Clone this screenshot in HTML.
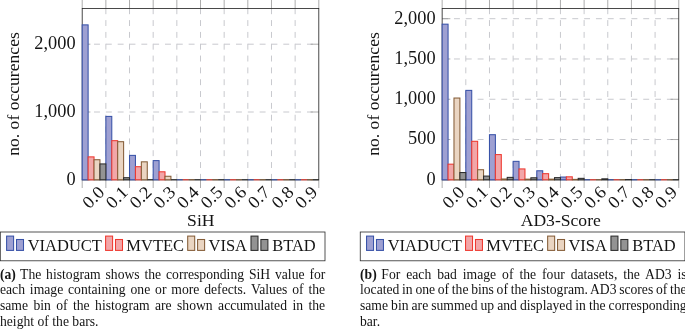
<!DOCTYPE html>
<html lang="en"><head><meta charset="utf-8"><title>Histograms</title>
<style>
html,body{margin:0;padding:0;background:#fff}
body{width:685px;height:329px;position:relative;overflow:hidden;font-family:"Liberation Serif", serif;color:#141414}
svg{position:absolute;left:0;top:0}
svg text{font-family:"Liberation Serif", serif;fill:#141414}
.g{stroke:#c8c9ce;stroke-width:1.0;stroke-dasharray:5.915 5.915;fill:none}
.t{stroke:#8a8a8a;stroke-width:0.7}
.ax{fill:none;stroke:#2a2a2a;stroke-width:0.85}
.tl{font-size:17.9px}
.xl{font-size:17.6px}
.lg{font-size:16.5px}
.cl{position:absolute;width:325px;font-size:13.65px;line-height:15.55px;height:15.55px;white-space:nowrap;overflow:visible}
</style></head><body>
<svg width="685" height="329" viewBox="0 0 685 329">
<line x1="105.86" y1="179.8" x2="105.86" y2="8.5" class="g"/>
<line x1="129.52" y1="179.8" x2="129.52" y2="8.5" class="g"/>
<line x1="153.18" y1="179.8" x2="153.18" y2="8.5" class="g"/>
<line x1="176.84" y1="179.8" x2="176.84" y2="8.5" class="g"/>
<line x1="200.50" y1="179.8" x2="200.50" y2="8.5" class="g"/>
<line x1="224.16" y1="179.8" x2="224.16" y2="8.5" class="g"/>
<line x1="247.82" y1="179.8" x2="247.82" y2="8.5" class="g"/>
<line x1="271.48" y1="179.8" x2="271.48" y2="8.5" class="g"/>
<line x1="295.14" y1="179.8" x2="295.14" y2="8.5" class="g"/>
<line x1="82.20" y1="179.80" x2="318.80" y2="179.80" class="g"/>
<line x1="82.20" y1="112.00" x2="318.80" y2="112.00" class="g"/>
<line x1="82.20" y1="44.20" x2="318.80" y2="44.20" class="g"/>
<line x1="82.20" y1="179.8" x2="82.20" y2="188.0" class="t"/>
<line x1="82.20" y1="8.5" x2="82.20" y2="-0.6999999999999993" class="t"/>
<line x1="105.86" y1="179.8" x2="105.86" y2="188.0" class="t"/>
<line x1="105.86" y1="8.5" x2="105.86" y2="-0.6999999999999993" class="t"/>
<line x1="129.52" y1="179.8" x2="129.52" y2="188.0" class="t"/>
<line x1="129.52" y1="8.5" x2="129.52" y2="-0.6999999999999993" class="t"/>
<line x1="153.18" y1="179.8" x2="153.18" y2="188.0" class="t"/>
<line x1="153.18" y1="8.5" x2="153.18" y2="-0.6999999999999993" class="t"/>
<line x1="176.84" y1="179.8" x2="176.84" y2="188.0" class="t"/>
<line x1="176.84" y1="8.5" x2="176.84" y2="-0.6999999999999993" class="t"/>
<line x1="200.50" y1="179.8" x2="200.50" y2="188.0" class="t"/>
<line x1="200.50" y1="8.5" x2="200.50" y2="-0.6999999999999993" class="t"/>
<line x1="224.16" y1="179.8" x2="224.16" y2="188.0" class="t"/>
<line x1="224.16" y1="8.5" x2="224.16" y2="-0.6999999999999993" class="t"/>
<line x1="247.82" y1="179.8" x2="247.82" y2="188.0" class="t"/>
<line x1="247.82" y1="8.5" x2="247.82" y2="-0.6999999999999993" class="t"/>
<line x1="271.48" y1="179.8" x2="271.48" y2="188.0" class="t"/>
<line x1="271.48" y1="8.5" x2="271.48" y2="-0.6999999999999993" class="t"/>
<line x1="295.14" y1="179.8" x2="295.14" y2="188.0" class="t"/>
<line x1="295.14" y1="8.5" x2="295.14" y2="-0.6999999999999993" class="t"/>
<line x1="318.80" y1="179.8" x2="318.80" y2="188.0" class="t"/>
<line x1="318.80" y1="8.5" x2="318.80" y2="-0.6999999999999993" class="t"/>
<line x1="82.20" y1="179.80" x2="90.40" y2="179.80" class="t"/>
<line x1="318.80" y1="179.80" x2="310.60" y2="179.80" class="t"/>
<line x1="82.20" y1="112.00" x2="90.40" y2="112.00" class="t"/>
<line x1="318.80" y1="112.00" x2="310.60" y2="112.00" class="t"/>
<line x1="82.20" y1="44.20" x2="90.40" y2="44.20" class="t"/>
<line x1="318.80" y1="44.20" x2="310.60" y2="44.20" class="t"/>
<rect x="82.20" y="8.5" width="236.60" height="171.3" class="ax"/>
<rect x="82.20" y="24.88" width="5.92" height="154.92" fill="#9ea0d2" stroke="#3852a8" stroke-width="1.05"/>
<rect x="105.86" y="116.41" width="5.92" height="63.39" fill="#9ea0d2" stroke="#3852a8" stroke-width="1.05"/>
<rect x="129.52" y="155.39" width="5.92" height="24.41" fill="#9ea0d2" stroke="#3852a8" stroke-width="1.05"/>
<rect x="153.18" y="160.61" width="5.92" height="19.19" fill="#9ea0d2" stroke="#3852a8" stroke-width="1.05"/>
<line x1="176.84" y1="179.8" x2="182.75" y2="179.8" stroke="#3852a8" stroke-width="1.05"/>
<line x1="200.50" y1="179.8" x2="206.41" y2="179.8" stroke="#3852a8" stroke-width="1.05"/>
<line x1="224.16" y1="179.8" x2="230.08" y2="179.8" stroke="#3852a8" stroke-width="1.05"/>
<line x1="247.82" y1="179.8" x2="253.73" y2="179.8" stroke="#3852a8" stroke-width="1.05"/>
<line x1="271.48" y1="179.8" x2="277.40" y2="179.8" stroke="#3852a8" stroke-width="1.05"/>
<line x1="295.14" y1="179.8" x2="301.06" y2="179.8" stroke="#3852a8" stroke-width="1.05"/>
<rect x="88.12" y="156.88" width="5.92" height="22.92" fill="#f2a6a8" stroke="#ee382f" stroke-width="1.05"/>
<rect x="111.78" y="140.68" width="5.92" height="39.12" fill="#f2a6a8" stroke="#ee382f" stroke-width="1.05"/>
<rect x="135.44" y="166.71" width="5.92" height="13.09" fill="#f2a6a8" stroke="#ee382f" stroke-width="1.05"/>
<rect x="159.09" y="171.80" width="5.92" height="8.00" fill="#f2a6a8" stroke="#ee382f" stroke-width="1.05"/>
<line x1="182.75" y1="179.8" x2="188.67" y2="179.8" stroke="#ee382f" stroke-width="1.05"/>
<line x1="206.41" y1="179.8" x2="212.33" y2="179.8" stroke="#ee382f" stroke-width="1.05"/>
<line x1="230.08" y1="179.8" x2="235.99" y2="179.8" stroke="#ee382f" stroke-width="1.05"/>
<line x1="253.73" y1="179.8" x2="259.65" y2="179.8" stroke="#ee382f" stroke-width="1.05"/>
<line x1="277.40" y1="179.8" x2="283.31" y2="179.8" stroke="#ee382f" stroke-width="1.05"/>
<line x1="301.06" y1="179.8" x2="306.97" y2="179.8" stroke="#ee382f" stroke-width="1.05"/>
<rect x="94.03" y="159.73" width="5.92" height="20.07" fill="#ead5c2" stroke="#855d38" stroke-width="1.05"/>
<rect x="117.69" y="141.70" width="5.92" height="38.10" fill="#ead5c2" stroke="#855d38" stroke-width="1.05"/>
<rect x="141.35" y="161.83" width="5.92" height="17.97" fill="#ead5c2" stroke="#855d38" stroke-width="1.05"/>
<rect x="165.01" y="176.27" width="5.92" height="3.53" fill="#ead5c2" stroke="#855d38" stroke-width="1.05"/>
<line x1="188.67" y1="179.8" x2="194.59" y2="179.8" stroke="#855d38" stroke-width="1.05"/>
<line x1="212.33" y1="179.8" x2="218.25" y2="179.8" stroke="#855d38" stroke-width="1.05"/>
<line x1="235.99" y1="179.8" x2="241.91" y2="179.8" stroke="#855d38" stroke-width="1.05"/>
<line x1="259.65" y1="179.8" x2="265.56" y2="179.8" stroke="#855d38" stroke-width="1.05"/>
<line x1="283.31" y1="179.8" x2="289.23" y2="179.8" stroke="#855d38" stroke-width="1.05"/>
<line x1="306.97" y1="179.8" x2="312.88" y2="179.8" stroke="#855d38" stroke-width="1.05"/>
<rect x="99.95" y="163.93" width="5.92" height="15.87" fill="#939393" stroke="#2c2c2c" stroke-width="1.05"/>
<rect x="123.61" y="177.70" width="5.92" height="2.10" fill="#939393" stroke="#2c2c2c" stroke-width="1.05"/>
<line x1="147.27" y1="179.8" x2="153.18" y2="179.8" stroke="#2c2c2c" stroke-width="1.05"/>
<line x1="170.93" y1="179.8" x2="176.84" y2="179.8" stroke="#2c2c2c" stroke-width="1.05"/>
<line x1="194.59" y1="179.8" x2="200.50" y2="179.8" stroke="#2c2c2c" stroke-width="1.05"/>
<line x1="218.25" y1="179.8" x2="224.16" y2="179.8" stroke="#2c2c2c" stroke-width="1.05"/>
<line x1="241.91" y1="179.8" x2="247.82" y2="179.8" stroke="#2c2c2c" stroke-width="1.05"/>
<line x1="265.56" y1="179.8" x2="271.48" y2="179.8" stroke="#2c2c2c" stroke-width="1.05"/>
<line x1="289.23" y1="179.8" x2="295.14" y2="179.8" stroke="#2c2c2c" stroke-width="1.05"/>
<line x1="312.88" y1="179.8" x2="318.80" y2="179.8" stroke="#2c2c2c" stroke-width="1.05"/>
<text transform="translate(75.60,184.60) scale(1.025,1)" x="0" y="0" text-anchor="end" class="tl" style="font-size:17.9px">0</text>
<text transform="translate(75.60,116.80) scale(1.025,1)" x="0" y="0" text-anchor="end" class="tl" style="font-size:17.9px">1,000</text>
<text transform="translate(75.60,49.00) scale(1.025,1)" x="0" y="0" text-anchor="end" class="tl" style="font-size:17.9px">2,000</text>
<text transform="translate(93.13,197.10) rotate(-45) scale(1.045,1)" x="0" y="5.9" text-anchor="middle" class="tl" style="font-size:17.6px">0.0</text>
<text transform="translate(116.79,197.10) rotate(-45) scale(1.045,1)" x="0" y="5.9" text-anchor="middle" class="tl" style="font-size:17.6px">0.1</text>
<text transform="translate(140.45,197.10) rotate(-45) scale(1.045,1)" x="0" y="5.9" text-anchor="middle" class="tl" style="font-size:17.6px">0.2</text>
<text transform="translate(164.11,197.10) rotate(-45) scale(1.045,1)" x="0" y="5.9" text-anchor="middle" class="tl" style="font-size:17.6px">0.3</text>
<text transform="translate(187.77,197.10) rotate(-45) scale(1.045,1)" x="0" y="5.9" text-anchor="middle" class="tl" style="font-size:17.6px">0.4</text>
<text transform="translate(211.43,197.10) rotate(-45) scale(1.045,1)" x="0" y="5.9" text-anchor="middle" class="tl" style="font-size:17.6px">0.5</text>
<text transform="translate(235.09,197.10) rotate(-45) scale(1.045,1)" x="0" y="5.9" text-anchor="middle" class="tl" style="font-size:17.6px">0.6</text>
<text transform="translate(258.75,197.10) rotate(-45) scale(1.045,1)" x="0" y="5.9" text-anchor="middle" class="tl" style="font-size:17.6px">0.7</text>
<text transform="translate(282.41,197.10) rotate(-45) scale(1.045,1)" x="0" y="5.9" text-anchor="middle" class="tl" style="font-size:17.6px">0.8</text>
<text transform="translate(306.07,197.10) rotate(-45) scale(1.045,1)" x="0" y="5.9" text-anchor="middle" class="tl" style="font-size:17.6px">0.9</text>
<text transform="translate(19.10,94) rotate(-90)" x="0" y="0" text-anchor="middle" style="font-size:17.6px" class="tl">no. of occurences</text>
<text x="200.80" y="226.4" text-anchor="middle" class="xl">SiH</text>
<rect x="0.30" y="232.0" width="324.7" height="28.8" fill="#fff" stroke="#2a2a2a" stroke-width="0.8"/>
<rect x="6.60" y="236.1" width="7.0" height="14.3" fill="#9ea0d2" stroke="#3852a8" stroke-width="1.05"/>
<rect x="16.50" y="239.5" width="7.0" height="10.9" fill="#9ea0d2" stroke="#3852a8" stroke-width="1.05"/>
<text x="27.70" y="250.9" class="lg">VIADUCT</text>
<rect x="105.60" y="236.1" width="7.0" height="14.3" fill="#f2a6a8" stroke="#ee382f" stroke-width="1.05"/>
<rect x="115.50" y="239.5" width="7.0" height="10.9" fill="#f2a6a8" stroke="#ee382f" stroke-width="1.05"/>
<text x="126.30" y="250.9" class="lg">MVTEC</text>
<rect x="187.70" y="236.1" width="7.0" height="14.3" fill="#ead5c2" stroke="#855d38" stroke-width="1.05"/>
<rect x="197.60" y="239.5" width="7.0" height="10.9" fill="#ead5c2" stroke="#855d38" stroke-width="1.05"/>
<text x="208.50" y="250.9" class="lg">VISA</text>
<rect x="251.00" y="236.1" width="7.0" height="14.3" fill="#939393" stroke="#2c2c2c" stroke-width="1.05"/>
<rect x="260.90" y="239.5" width="7.0" height="10.9" fill="#939393" stroke="#2c2c2c" stroke-width="1.05"/>
<text x="272.20" y="250.9" class="lg">BTAD</text>
<line x1="465.81" y1="179.8" x2="465.81" y2="8.5" class="g"/>
<line x1="489.47" y1="179.8" x2="489.47" y2="8.5" class="g"/>
<line x1="513.13" y1="179.8" x2="513.13" y2="8.5" class="g"/>
<line x1="536.79" y1="179.8" x2="536.79" y2="8.5" class="g"/>
<line x1="560.45" y1="179.8" x2="560.45" y2="8.5" class="g"/>
<line x1="584.11" y1="179.8" x2="584.11" y2="8.5" class="g"/>
<line x1="607.77" y1="179.8" x2="607.77" y2="8.5" class="g"/>
<line x1="631.43" y1="179.8" x2="631.43" y2="8.5" class="g"/>
<line x1="655.09" y1="179.8" x2="655.09" y2="8.5" class="g"/>
<line x1="442.15" y1="179.80" x2="678.75" y2="179.80" class="g"/>
<line x1="442.15" y1="139.53" x2="678.75" y2="139.53" class="g"/>
<line x1="442.15" y1="99.25" x2="678.75" y2="99.25" class="g"/>
<line x1="442.15" y1="58.98" x2="678.75" y2="58.98" class="g"/>
<line x1="442.15" y1="18.70" x2="678.75" y2="18.70" class="g"/>
<line x1="442.15" y1="179.8" x2="442.15" y2="188.0" class="t"/>
<line x1="442.15" y1="8.5" x2="442.15" y2="-0.6999999999999993" class="t"/>
<line x1="465.81" y1="179.8" x2="465.81" y2="188.0" class="t"/>
<line x1="465.81" y1="8.5" x2="465.81" y2="-0.6999999999999993" class="t"/>
<line x1="489.47" y1="179.8" x2="489.47" y2="188.0" class="t"/>
<line x1="489.47" y1="8.5" x2="489.47" y2="-0.6999999999999993" class="t"/>
<line x1="513.13" y1="179.8" x2="513.13" y2="188.0" class="t"/>
<line x1="513.13" y1="8.5" x2="513.13" y2="-0.6999999999999993" class="t"/>
<line x1="536.79" y1="179.8" x2="536.79" y2="188.0" class="t"/>
<line x1="536.79" y1="8.5" x2="536.79" y2="-0.6999999999999993" class="t"/>
<line x1="560.45" y1="179.8" x2="560.45" y2="188.0" class="t"/>
<line x1="560.45" y1="8.5" x2="560.45" y2="-0.6999999999999993" class="t"/>
<line x1="584.11" y1="179.8" x2="584.11" y2="188.0" class="t"/>
<line x1="584.11" y1="8.5" x2="584.11" y2="-0.6999999999999993" class="t"/>
<line x1="607.77" y1="179.8" x2="607.77" y2="188.0" class="t"/>
<line x1="607.77" y1="8.5" x2="607.77" y2="-0.6999999999999993" class="t"/>
<line x1="631.43" y1="179.8" x2="631.43" y2="188.0" class="t"/>
<line x1="631.43" y1="8.5" x2="631.43" y2="-0.6999999999999993" class="t"/>
<line x1="655.09" y1="179.8" x2="655.09" y2="188.0" class="t"/>
<line x1="655.09" y1="8.5" x2="655.09" y2="-0.6999999999999993" class="t"/>
<line x1="678.75" y1="179.8" x2="678.75" y2="188.0" class="t"/>
<line x1="678.75" y1="8.5" x2="678.75" y2="-0.6999999999999993" class="t"/>
<line x1="442.15" y1="179.80" x2="450.35" y2="179.80" class="t"/>
<line x1="678.75" y1="179.80" x2="670.55" y2="179.80" class="t"/>
<line x1="442.15" y1="139.53" x2="450.35" y2="139.53" class="t"/>
<line x1="678.75" y1="139.53" x2="670.55" y2="139.53" class="t"/>
<line x1="442.15" y1="99.25" x2="450.35" y2="99.25" class="t"/>
<line x1="678.75" y1="99.25" x2="670.55" y2="99.25" class="t"/>
<line x1="442.15" y1="58.98" x2="450.35" y2="58.98" class="t"/>
<line x1="678.75" y1="58.98" x2="670.55" y2="58.98" class="t"/>
<line x1="442.15" y1="18.70" x2="450.35" y2="18.70" class="t"/>
<line x1="678.75" y1="18.70" x2="670.55" y2="18.70" class="t"/>
<rect x="442.15" y="8.5" width="236.60" height="171.3" class="ax"/>
<rect x="442.15" y="24.18" width="5.92" height="155.62" fill="#9ea0d2" stroke="#3852a8" stroke-width="1.05"/>
<rect x="465.81" y="90.39" width="5.92" height="89.41" fill="#9ea0d2" stroke="#3852a8" stroke-width="1.05"/>
<rect x="489.47" y="134.69" width="5.92" height="45.11" fill="#9ea0d2" stroke="#3852a8" stroke-width="1.05"/>
<rect x="513.13" y="161.35" width="5.92" height="18.45" fill="#9ea0d2" stroke="#3852a8" stroke-width="1.05"/>
<rect x="536.79" y="170.78" width="5.92" height="9.02" fill="#9ea0d2" stroke="#3852a8" stroke-width="1.05"/>
<rect x="560.45" y="177.06" width="5.92" height="2.74" fill="#9ea0d2" stroke="#3852a8" stroke-width="1.05"/>
<line x1="584.11" y1="179.8" x2="590.02" y2="179.8" stroke="#3852a8" stroke-width="1.05"/>
<line x1="607.77" y1="179.8" x2="613.68" y2="179.8" stroke="#3852a8" stroke-width="1.05"/>
<line x1="631.43" y1="179.8" x2="637.34" y2="179.8" stroke="#3852a8" stroke-width="1.05"/>
<line x1="655.09" y1="179.8" x2="661.00" y2="179.8" stroke="#3852a8" stroke-width="1.05"/>
<rect x="448.06" y="164.17" width="5.92" height="15.63" fill="#f2a6a8" stroke="#ee382f" stroke-width="1.05"/>
<rect x="471.73" y="141.30" width="5.92" height="38.50" fill="#f2a6a8" stroke="#ee382f" stroke-width="1.05"/>
<rect x="495.38" y="154.59" width="5.92" height="25.21" fill="#f2a6a8" stroke="#ee382f" stroke-width="1.05"/>
<rect x="519.04" y="168.93" width="5.92" height="10.87" fill="#f2a6a8" stroke="#ee382f" stroke-width="1.05"/>
<rect x="542.70" y="173.68" width="5.92" height="6.12" fill="#f2a6a8" stroke="#ee382f" stroke-width="1.05"/>
<rect x="566.36" y="176.82" width="5.92" height="2.98" fill="#f2a6a8" stroke="#ee382f" stroke-width="1.05"/>
<line x1="590.02" y1="179.8" x2="595.94" y2="179.8" stroke="#ee382f" stroke-width="1.05"/>
<line x1="613.68" y1="179.8" x2="619.60" y2="179.8" stroke="#ee382f" stroke-width="1.05"/>
<line x1="637.34" y1="179.8" x2="643.26" y2="179.8" stroke="#ee382f" stroke-width="1.05"/>
<line x1="661.00" y1="179.8" x2="666.92" y2="179.8" stroke="#ee382f" stroke-width="1.05"/>
<rect x="453.98" y="98.04" width="5.92" height="81.76" fill="#ead5c2" stroke="#855d38" stroke-width="1.05"/>
<rect x="477.64" y="169.73" width="5.92" height="10.07" fill="#ead5c2" stroke="#855d38" stroke-width="1.05"/>
<rect x="501.30" y="178.99" width="5.92" height="0.81" fill="#ead5c2" stroke="#855d38" stroke-width="1.05"/>
<rect x="524.96" y="179.16" width="5.92" height="0.64" fill="#ead5c2" stroke="#855d38" stroke-width="1.05"/>
<rect x="548.62" y="179.16" width="5.92" height="0.64" fill="#ead5c2" stroke="#855d38" stroke-width="1.05"/>
<rect x="572.28" y="179.40" width="5.92" height="0.40" fill="#ead5c2" stroke="#855d38" stroke-width="1.05"/>
<line x1="595.94" y1="179.8" x2="601.86" y2="179.8" stroke="#855d38" stroke-width="1.05"/>
<line x1="619.60" y1="179.8" x2="625.51" y2="179.8" stroke="#855d38" stroke-width="1.05"/>
<line x1="643.26" y1="179.8" x2="649.17" y2="179.8" stroke="#855d38" stroke-width="1.05"/>
<line x1="666.92" y1="179.8" x2="672.83" y2="179.8" stroke="#855d38" stroke-width="1.05"/>
<rect x="459.89" y="172.55" width="5.92" height="7.25" fill="#939393" stroke="#2c2c2c" stroke-width="1.05"/>
<rect x="483.56" y="176.09" width="5.92" height="3.71" fill="#939393" stroke="#2c2c2c" stroke-width="1.05"/>
<rect x="507.21" y="177.38" width="5.92" height="2.42" fill="#939393" stroke="#2c2c2c" stroke-width="1.05"/>
<rect x="530.88" y="177.79" width="5.92" height="2.01" fill="#939393" stroke="#2c2c2c" stroke-width="1.05"/>
<rect x="554.53" y="177.63" width="5.92" height="2.17" fill="#939393" stroke="#2c2c2c" stroke-width="1.05"/>
<rect x="578.19" y="178.35" width="5.92" height="1.45" fill="#939393" stroke="#2c2c2c" stroke-width="1.05"/>
<rect x="601.86" y="178.83" width="5.92" height="0.97" fill="#939393" stroke="#2c2c2c" stroke-width="1.05"/>
<rect x="625.51" y="179.56" width="5.92" height="0.24" fill="#939393" stroke="#2c2c2c" stroke-width="1.05"/>
<line x1="649.17" y1="179.8" x2="655.09" y2="179.8" stroke="#2c2c2c" stroke-width="1.05"/>
<line x1="672.83" y1="179.8" x2="678.75" y2="179.8" stroke="#2c2c2c" stroke-width="1.05"/>
<text transform="translate(435.55,184.60) scale(1.025,1)" x="0" y="0" text-anchor="end" class="tl" style="font-size:17.9px">0</text>
<text transform="translate(435.55,144.33) scale(1.025,1)" x="0" y="0" text-anchor="end" class="tl" style="font-size:17.9px">500</text>
<text transform="translate(435.55,104.05) scale(1.025,1)" x="0" y="0" text-anchor="end" class="tl" style="font-size:17.9px">1,000</text>
<text transform="translate(435.55,63.78) scale(1.025,1)" x="0" y="0" text-anchor="end" class="tl" style="font-size:17.9px">1,500</text>
<text transform="translate(435.55,23.50) scale(1.025,1)" x="0" y="0" text-anchor="end" class="tl" style="font-size:17.9px">2,000</text>
<text transform="translate(453.08,197.10) rotate(-45) scale(1.045,1)" x="0" y="5.9" text-anchor="middle" class="tl" style="font-size:17.6px">0.0</text>
<text transform="translate(476.74,197.10) rotate(-45) scale(1.045,1)" x="0" y="5.9" text-anchor="middle" class="tl" style="font-size:17.6px">0.1</text>
<text transform="translate(500.40,197.10) rotate(-45) scale(1.045,1)" x="0" y="5.9" text-anchor="middle" class="tl" style="font-size:17.6px">0.2</text>
<text transform="translate(524.06,197.10) rotate(-45) scale(1.045,1)" x="0" y="5.9" text-anchor="middle" class="tl" style="font-size:17.6px">0.3</text>
<text transform="translate(547.72,197.10) rotate(-45) scale(1.045,1)" x="0" y="5.9" text-anchor="middle" class="tl" style="font-size:17.6px">0.4</text>
<text transform="translate(571.38,197.10) rotate(-45) scale(1.045,1)" x="0" y="5.9" text-anchor="middle" class="tl" style="font-size:17.6px">0.5</text>
<text transform="translate(595.04,197.10) rotate(-45) scale(1.045,1)" x="0" y="5.9" text-anchor="middle" class="tl" style="font-size:17.6px">0.6</text>
<text transform="translate(618.70,197.10) rotate(-45) scale(1.045,1)" x="0" y="5.9" text-anchor="middle" class="tl" style="font-size:17.6px">0.7</text>
<text transform="translate(642.36,197.10) rotate(-45) scale(1.045,1)" x="0" y="5.9" text-anchor="middle" class="tl" style="font-size:17.6px">0.8</text>
<text transform="translate(666.02,197.10) rotate(-45) scale(1.045,1)" x="0" y="5.9" text-anchor="middle" class="tl" style="font-size:17.6px">0.9</text>
<text transform="translate(379.05,94) rotate(-90)" x="0" y="0" text-anchor="middle" style="font-size:17.6px" class="tl">no. of occurences</text>
<text x="560.75" y="226.4" text-anchor="middle" class="xl">AD3-Score</text>
<rect x="360.25" y="232.0" width="324.7" height="28.8" fill="#fff" stroke="#2a2a2a" stroke-width="0.8"/>
<rect x="366.55" y="236.1" width="7.0" height="14.3" fill="#9ea0d2" stroke="#3852a8" stroke-width="1.05"/>
<rect x="376.45" y="239.5" width="7.0" height="10.9" fill="#9ea0d2" stroke="#3852a8" stroke-width="1.05"/>
<text x="387.65" y="250.9" class="lg">VIADUCT</text>
<rect x="465.55" y="236.1" width="7.0" height="14.3" fill="#f2a6a8" stroke="#ee382f" stroke-width="1.05"/>
<rect x="475.45" y="239.5" width="7.0" height="10.9" fill="#f2a6a8" stroke="#ee382f" stroke-width="1.05"/>
<text x="486.25" y="250.9" class="lg">MVTEC</text>
<rect x="547.65" y="236.1" width="7.0" height="14.3" fill="#ead5c2" stroke="#855d38" stroke-width="1.05"/>
<rect x="557.55" y="239.5" width="7.0" height="10.9" fill="#ead5c2" stroke="#855d38" stroke-width="1.05"/>
<text x="568.45" y="250.9" class="lg">VISA</text>
<rect x="610.95" y="236.1" width="7.0" height="14.3" fill="#939393" stroke="#2c2c2c" stroke-width="1.05"/>
<rect x="620.85" y="239.5" width="7.0" height="10.9" fill="#939393" stroke="#2c2c2c" stroke-width="1.05"/>
<text x="632.15" y="250.9" class="lg">BTAD</text>
</svg>
<div class="cl" style="left:0px;top:266.90px;word-spacing:1.447px"><b>(a)</b><span style="word-spacing:0.724px"> </span>The histogram shows the corresponding SiH value for</div>
<div class="cl" style="left:0px;top:282.45px;word-spacing:1.467px">each image containing one or more defects. Values of the</div>
<div class="cl" style="left:0px;top:298.00px;word-spacing:1.984px">same bin of the histogram are shown accumulated in the</div>
<div class="cl" style="left:0px;top:313.55px">height of the bars.</div>
<div class="cl" style="left:360px;top:266.90px;word-spacing:2.537px"><b>(b)</b><span style="word-spacing:1.268px"> </span>For each bad image of the four datasets, the AD3 is</div>
<div class="cl" style="left:360px;top:282.45px;word-spacing:-0.717px">located in one of the bins of the histogram. AD3 scores of the</div>
<div class="cl" style="left:360px;top:298.00px;word-spacing:-0.368px">same bin are summed up and displayed in the corresponding</div>
<div class="cl" style="left:360px;top:313.55px">bar.</div>
</body></html>
